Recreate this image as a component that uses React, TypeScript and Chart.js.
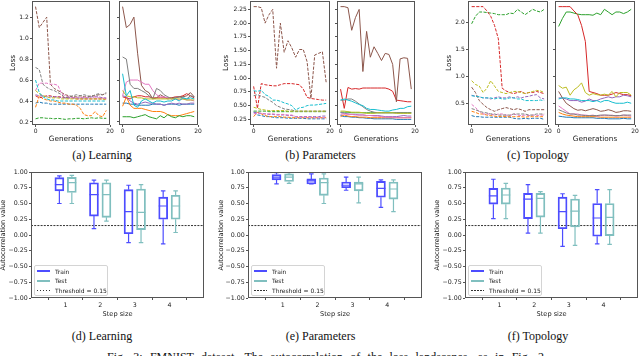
import React, { useEffect, useRef } from 'react';
import { Chart, registerables } from 'chart.js';

Chart.register(...registerables);

// ---------------- DATA ----------------
const generations = [0, 1, 2, 3, 4, 5, 6, 7, 8, 9, 10, 11, 12, 13, 14, 15, 16, 17, 18, 19];
const generationTicks = [0, 20];
const seriesColors = ['#1f77b4', '#ff7f0e', '#2ca02c', '#d62728', '#9467bd', '#8c564b', '#e377c2', '#7f7f7f', '#bcbd22', '#17becf'];

// (a) Learning – left (dashed) and right (solid); rows: blue, orange, green, red, purple, brown, pink, gray, olive, cyan
const learningLeft = [
  [0.38, 0.39, 0.38, 0.38, 0.37, 0.37, 0.37, 0.37, 0.37, 0.37, 0.37, 0.37, 0.37, 0.37, 0.37, 0.37, 0.37, 0.37, 0.37, 0.37],
  [0.34, 0.45, 0.42, 0.41, 0.40, 0.40, 0.39, 0.38, 0.38, 0.37, 0.37, 0.36, 0.33, 0.27, 0.26, 0.26, 0.30, 0.26, 0.25, 0.31],
  [0.23, 0.24, 0.24, 0.235, 0.235, 0.23, 0.235, 0.23, 0.225, 0.23, 0.23, 0.235, 0.235, 0.23, 0.235, 0.24, 0.235, 0.24, 0.235, 0.235],
  [0.45, 0.43, 0.44, 0.45, 0.45, 0.44, 0.44, 0.44, 0.43, 0.43, 0.43, 0.42, 0.42, 0.42, 0.42, 0.42, 0.42, 0.42, 0.42, 0.42],
  [0.46, 0.45, 0.45, 0.44, 0.44, 0.44, 0.44, 0.43, 0.43, 0.43, 0.43, 0.43, 0.43, 0.43, 0.43, 0.44, 0.44, 0.44, 0.43, 0.43],
  [1.30, 1.10, 1.15, 1.20, 0.56, 0.52, 0.50, 0.48, 0.46, 0.45, 0.44, 0.44, 0.45, 0.44, 0.44, 0.45, 0.45, 0.46, 0.46, 0.47],
  [0.50, 0.57, 0.57, 0.57, 0.56, 0.56, 0.55, 0.47, 0.45, 0.44, 0.43, 0.43, 0.43, 0.44, 0.43, 0.43, 0.44, 0.43, 0.43, 0.42],
  [0.72, 0.70, 0.56, 0.53, 0.51, 0.50, 0.48, 0.46, 0.43, 0.44, 0.45, 0.46, 0.45, 0.46, 0.45, 0.44, 0.46, 0.47, 0.46, 0.48],
  [0.50, 0.47, 0.45, 0.44, 0.43, 0.43, 0.43, 0.42, 0.42, 0.42, 0.42, 0.42, 0.42, 0.42, 0.42, 0.42, 0.42, 0.42, 0.42, 0.41],
  [0.60, 0.48, 0.44, 0.42, 0.41, 0.41, 0.40, 0.40, 0.40, 0.40, 0.40, 0.40, 0.40, 0.40, 0.40, 0.40, 0.40, 0.40, 0.40, 0.40],
];
const learningRight = [
  [0.38, 0.38, 0.37, 0.37, 0.36, 0.36, 0.36, 0.36, 0.37, 0.37, 0.37, 0.36, 0.37, 0.37, 0.37, 0.36, 0.37, 0.37, 0.37, 0.37],
  [0.35, 0.44, 0.36, 0.33, 0.33, 0.33, 0.32, 0.31, 0.30, 0.30, 0.30, 0.29, 0.27, 0.26, 0.26, 0.26, 0.27, 0.28, 0.29, 0.30],
  [0.25, 0.25, 0.25, 0.24, 0.25, 0.26, 0.27, 0.25, 0.24, 0.23, 0.26, 0.24, 0.27, 0.25, 0.24, 0.26, 0.25, 0.26, 0.26, 0.25],
  [0.44, 0.43, 0.42, 0.44, 0.45, 0.45, 0.44, 0.44, 0.43, 0.43, 0.43, 0.43, 0.43, 0.43, 0.44, 0.44, 0.45, 0.47, 0.45, 0.43],
  [0.45, 0.44, 0.40, 0.38, 0.37, 0.38, 0.39, 0.38, 0.38, 0.37, 0.37, 0.36, 0.37, 0.38, 0.37, 0.38, 0.37, 0.37, 0.38, 0.38],
  [1.30, 1.10, 1.13, 1.20, 0.85, 0.55, 0.50, 0.48, 0.42, 0.43, 0.46, 0.44, 0.42, 0.43, 0.43, 0.44, 0.44, 0.45, 0.48, 0.44],
  [0.45, 0.58, 0.60, 0.60, 0.60, 0.58, 0.56, 0.56, 0.50, 0.46, 0.44, 0.44, 0.43, 0.42, 0.42, 0.41, 0.42, 0.41, 0.41, 0.40],
  [0.82, 0.80, 0.56, 0.52, 0.52, 0.50, 0.48, 0.45, 0.42, 0.52, 0.50, 0.46, 0.44, 0.42, 0.43, 0.44, 0.43, 0.42, 0.45, 0.44],
  [0.50, 0.45, 0.44, 0.44, 0.43, 0.43, 0.42, 0.42, 0.42, 0.42, 0.42, 0.42, 0.42, 0.42, 0.42, 0.42, 0.42, 0.41, 0.41, 0.41],
  [0.66, 0.45, 0.50, 0.36, 0.34, 0.40, 0.42, 0.40, 0.38, 0.40, 0.40, 0.39, 0.40, 0.40, 0.42, 0.40, 0.43, 0.42, 0.43, 0.42],
];

// (b) Parameters
const paramsLeft = [
  [0.38, 0.33, 0.32, 0.30, 0.30, 0.29, 0.28, 0.28, 0.28, 0.27, 0.27, 0.27, 0.27, 0.27, 0.26, 0.26, 0.26, 0.26, 0.26, 0.26],
  [0.30, 0.38, 0.35, 0.32, 0.30, 0.30, 0.30, 0.30, 0.29, 0.29, 0.28, 0.28, 0.28, 0.28, 0.28, 0.28, 0.28, 0.28, 0.28, 0.28],
  [0.40, 0.40, 0.40, 0.40, 0.39, 0.39, 0.39, 0.39, 0.39, 0.39, 0.39, 0.39, 0.39, 0.39, 0.39, 0.39, 0.39, 0.39, 0.39, 0.39],
  [0.85, 0.45, 0.90, 0.88, 0.87, 0.86, 0.86, 0.88, 0.90, 0.90, 0.90, 0.89, 0.88, 0.80, 0.65, 0.63, 0.62, 0.61, 0.60, 0.60],
  [0.38, 0.37, 0.36, 0.35, 0.34, 0.34, 0.33, 0.33, 0.33, 0.32, 0.32, 0.30, 0.30, 0.30, 0.30, 0.30, 0.30, 0.30, 0.31, 0.31],
  [2.30, 2.30, 2.28, 2.00, 2.15, 2.25, 1.18, 2.00, 1.47, 1.68, 1.55, 1.38, 1.52, 1.52, 1.30, 0.63, 1.42, 1.45, 1.48, 0.92],
  [0.35, 0.36, 0.36, 0.35, 0.35, 0.35, 0.34, 0.34, 0.34, 0.33, 0.33, 0.30, 0.29, 0.29, 0.29, 0.29, 0.28, 0.28, 0.28, 0.28],
  [0.68, 0.70, 0.67, 0.65, 0.60, 0.56, 0.50, 0.47, 0.44, 0.43, 0.42, 0.40, 0.40, 0.40, 0.40, 0.40, 0.40, 0.40, 0.40, 0.40],
  [0.47, 0.45, 0.43, 0.42, 0.41, 0.41, 0.41, 0.41, 0.41, 0.40, 0.40, 0.40, 0.40, 0.40, 0.40, 0.40, 0.40, 0.40, 0.40, 0.40],
  [0.77, 0.76, 0.78, 0.70, 0.67, 0.60, 0.60, 0.58, 0.55, 0.53, 0.50, 0.42, 0.46, 0.47, 0.50, 0.51, 0.51, 0.52, 0.53, 0.54],
];
const paramsRight = [
  [0.32, 0.30, 0.30, 0.29, 0.29, 0.28, 0.28, 0.27, 0.27, 0.26, 0.26, 0.26, 0.26, 0.26, 0.26, 0.25, 0.25, 0.25, 0.25, 0.25],
  [0.30, 0.33, 0.31, 0.30, 0.30, 0.29, 0.29, 0.29, 0.28, 0.28, 0.28, 0.28, 0.28, 0.28, 0.28, 0.28, 0.28, 0.28, 0.28, 0.28],
  [0.38, 0.38, 0.38, 0.37, 0.37, 0.37, 0.37, 0.37, 0.37, 0.37, 0.37, 0.37, 0.37, 0.37, 0.37, 0.37, 0.37, 0.37, 0.37, 0.37],
  [0.80, 0.45, 0.83, 0.80, 0.81, 0.80, 0.82, 0.82, 0.82, 0.82, 0.82, 0.82, 0.82, 0.80, 0.76, 0.60, 0.59, 0.58, 0.57, 0.57],
  [0.37, 0.36, 0.35, 0.34, 0.34, 0.33, 0.33, 0.32, 0.32, 0.32, 0.32, 0.31, 0.30, 0.30, 0.30, 0.30, 0.31, 0.32, 0.31, 0.31],
  [2.30, 2.30, 2.28, 1.87, 2.10, 2.25, 1.12, 1.85, 1.38, 1.57, 1.45, 1.32, 1.45, 1.43, 1.25, 0.57, 1.35, 1.37, 1.36, 0.80],
  [0.34, 0.35, 0.34, 0.34, 0.33, 0.33, 0.33, 0.32, 0.32, 0.31, 0.31, 0.30, 0.29, 0.29, 0.29, 0.28, 0.28, 0.28, 0.28, 0.28],
  [0.60, 0.60, 0.62, 0.62, 0.58, 0.53, 0.48, 0.43, 0.40, 0.38, 0.37, 0.37, 0.37, 0.37, 0.37, 0.37, 0.37, 0.37, 0.37, 0.37],
  [0.40, 0.40, 0.39, 0.38, 0.38, 0.38, 0.37, 0.36, 0.36, 0.36, 0.37, 0.37, 0.37, 0.37, 0.37, 0.36, 0.36, 0.36, 0.36, 0.36],
  [0.60, 0.62, 0.60, 0.58, 0.55, 0.52, 0.50, 0.45, 0.43, 0.43, 0.42, 0.41, 0.40, 0.40, 0.42, 0.43, 0.45, 0.45, 0.48, 0.49],
];

// (c) Topology
const topologyLeft = [
  [0.27, 0.25, 0.25, 0.24, 0.24, 0.24, 0.24, 0.24, 0.24, 0.24, 0.24, 0.22, 0.21, 0.21, 0.22, 0.21, 0.22, 0.22, 0.22, 0.20],
  [0.35, 0.33, 0.30, 0.30, 0.28, 0.27, 0.26, 0.25, 0.26, 0.25, 0.25, 0.25, 0.25, 0.25, 0.24, 0.25, 0.25, 0.25, 0.25, 0.25],
  [1.98, 2.12, 2.20, 2.20, 2.19, 2.18, 2.17, 2.15, 2.15, 2.15, 2.18, 2.17, 2.25, 2.20, 2.15, 2.20, 2.25, 2.22, 2.20, 2.25],
  [2.30, 2.30, 2.30, 2.30, 2.22, 2.12, 1.95, 1.70, 0.78, 0.73, 0.70, 0.68, 0.70, 0.72, 0.68, 0.70, 0.70, 0.72, 0.70, 0.68],
  [0.65, 0.63, 0.62, 0.60, 0.60, 0.58, 0.60, 0.62, 0.60, 0.60, 0.62, 0.60, 0.62, 0.60, 0.62, 0.63, 0.65, 0.66, 0.60, 0.58],
  [0.80, 0.70, 0.55, 0.48, 0.42, 0.38, 0.35, 0.38, 0.40, 0.42, 0.40, 0.38, 0.40, 0.38, 0.35, 0.38, 0.38, 0.38, 0.38, 0.38],
  [0.48, 0.42, 0.35, 0.30, 0.30, 0.30, 0.28, 0.30, 0.30, 0.28, 0.27, 0.30, 0.28, 0.27, 0.28, 0.27, 0.28, 0.27, 0.28, 0.28],
  [0.40, 0.38, 0.35, 0.33, 0.32, 0.30, 0.30, 0.28, 0.28, 0.28, 0.28, 0.30, 0.30, 0.30, 0.30, 0.28, 0.28, 0.30, 0.30, 0.30],
  [0.92, 0.85, 0.82, 0.70, 0.78, 0.92, 0.82, 0.72, 0.70, 0.68, 0.70, 0.72, 0.72, 0.70, 0.68, 0.70, 0.72, 0.74, 0.73, 0.70],
  [0.64, 0.63, 0.62, 0.60, 0.60, 0.60, 0.58, 0.60, 0.58, 0.58, 0.60, 0.60, 0.58, 0.58, 0.55, 0.55, 0.55, 0.55, 0.56, 0.55],
];
const topologyRight = [
  [0.26, 0.25, 0.24, 0.24, 0.23, 0.23, 0.23, 0.23, 0.23, 0.23, 0.22, 0.22, 0.22, 0.21, 0.21, 0.21, 0.21, 0.22, 0.21, 0.21],
  [0.33, 0.30, 0.28, 0.27, 0.26, 0.25, 0.25, 0.25, 0.25, 0.25, 0.25, 0.24, 0.24, 0.24, 0.24, 0.24, 0.24, 0.24, 0.24, 0.24],
  [1.93, 2.08, 2.20, 2.20, 2.18, 2.16, 2.15, 2.15, 2.15, 2.14, 2.18, 2.15, 2.25, 2.20, 2.15, 2.20, 2.20, 2.17, 2.20, 2.25],
  [2.30, 2.30, 2.30, 2.30, 2.22, 2.15, 1.95, 1.65, 0.72, 0.70, 0.68, 0.65, 0.65, 0.65, 0.67, 0.70, 0.68, 0.66, 0.66, 0.64],
  [0.60, 0.60, 0.58, 0.55, 0.55, 0.55, 0.52, 0.54, 0.58, 0.55, 0.55, 0.58, 0.60, 0.62, 0.60, 0.62, 0.62, 0.65, 0.64, 0.62],
  [0.72, 0.60, 0.50, 0.45, 0.40, 0.37, 0.38, 0.36, 0.38, 0.40, 0.38, 0.35, 0.36, 0.38, 0.36, 0.33, 0.34, 0.36, 0.36, 0.35],
  [0.45, 0.40, 0.35, 0.30, 0.30, 0.30, 0.28, 0.28, 0.27, 0.28, 0.26, 0.27, 0.28, 0.27, 0.28, 0.26, 0.27, 0.28, 0.27, 0.26],
  [0.38, 0.35, 0.32, 0.30, 0.30, 0.28, 0.28, 0.27, 0.27, 0.27, 0.27, 0.28, 0.28, 0.28, 0.27, 0.27, 0.27, 0.28, 0.28, 0.28],
  [0.83, 0.78, 0.80, 0.65, 0.75, 0.80, 0.88, 0.70, 0.65, 0.68, 0.66, 0.65, 0.67, 0.65, 0.72, 0.62, 0.70, 0.70, 0.70, 0.65],
  [0.58, 0.60, 0.60, 0.58, 0.58, 0.57, 0.55, 0.55, 0.55, 0.53, 0.55, 0.52, 0.55, 0.55, 0.52, 0.50, 0.50, 0.50, 0.52, 0.50],
];

const learningLossTicks = [0.2, 0.4, 0.6, 0.8, 1.0, 1.2];
const paramsLossTicks = [0.25, 0.5, 0.75, 1.0, 1.25, 1.5, 1.75, 2.0, 2.25];
const topologyLossTicks = [0.5, 1.0, 1.5, 2.0];

// Box plots: autocorrelation per step size
const stepSizes = [1, 2, 3, 4];
const autocorrTicks = [-1, -0.75, -0.5, -0.25, 0, 0.25, 0.5, 0.75, 1];
const threshold = 0.15;

const learningTrainBox = { lo: [0.50, 0.10, -0.12, -0.14], q1: [0.70, 0.30, 0.02, 0.25], med: [0.80, 0.64, 0.37, 0.46], q3: [0.91, 0.83, 0.72, 0.60], hi: [0.94, 0.87, 0.79, 0.70] };
const learningTestBox = { lo: [0.50, 0.22, -0.12, 0.04], q1: [0.675, 0.28, 0.085, 0.25], med: [0.83, 0.64, 0.36, 0.46], q3: [0.915, 0.83, 0.73, 0.63], hi: [0.945, 0.87, 0.80, 0.70] };
const paramsTrainBox = { lo: [0.81, 0.81, 0.71, 0.44], q1: [0.875, 0.81, 0.75, 0.60], med: [0.92, 0.86, 0.79, 0.74], q3: [0.96, 0.89, 0.84, 0.85], hi: [0.99, 0.97, 0.92, 0.875] };
const paramsTestBox = { lo: [0.82, 0.50, 0.51, 0.37], q1: [0.85, 0.63, 0.70, 0.57], med: [0.92, 0.83, 0.81, 0.73], q3: [0.97, 0.905, 0.84, 0.84], hi: [0.99, 0.97, 0.92, 0.875] };
const topologyTrainBox = { lo: [0.26, 0.03, -0.18, -0.14], q1: [0.49, 0.26, 0.10, -0.02], med: [0.62, 0.57, 0.37, 0.27], q3: [0.74, 0.66, 0.60, 0.50], hi: [0.885, 0.80, 0.655, 0.72] };
const topologyTestBox = { lo: [0.26, 0.03, -0.165, -0.15], q1: [0.49, 0.285, 0.13, -0.01], med: [0.635, 0.58, 0.38, 0.28], q3: [0.745, 0.66, 0.57, 0.50], hi: [0.82, 0.69, 0.63, 0.72] };

// ---------------- STYLE ----------------
const FONT = '"DejaVu Sans", sans-serif';
const SERIF = '"Liberation Serif", "Times New Roman", serif';
const TEXT = '#222';
const FRAME = '#555';
const TRAIN_COLOR = 'rgb(77,77,255)';
const TEST_COLOR = 'rgb(128,191,191)';
const BOX_OFFSET = 0.18;
const BOX_PX = 9;

type Frame = { l: number; t: number; r: number; b: number };

function geometry(frame: Frame, yTitleX: number | null, xTitleY: number, titleLH: number) {
  const padTop = 5;
  const padRight = 6;
  const left = yTitleX != null ? Math.floor(yTitleX - titleLH / 2) : frame.l - 4;
  const yTitlePad = yTitleX != null ? yTitleX - titleLH / 2 - left : 0;
  const top = frame.t - padTop;
  const bottom = Math.ceil(xTitleY + titleLH / 2);
  const xTitlePad = bottom - (xTitleY + titleLH / 2);
  return {
    left, top, width: frame.r + padRight - left, height: bottom - top,
    yAxisW: frame.l - left, xAxisH: bottom - frame.b, yTitlePad, xTitlePad, padTop, padRight,
  };
}
type Geom = ReturnType<typeof geometry>;

const framePlugin = {
  id: 'frame',
  afterDraw(chart: any) {
    const { ctx, chartArea: a } = chart;
    ctx.save();
    ctx.strokeStyle = FRAME;
    ctx.lineWidth = 1;
    ctx.strokeRect(a.left + 0.5, a.top + 0.5, a.right - a.left - 1, a.bottom - a.top - 1);
    ctx.restore();
  },
};

const whiskerPlugin = {
  id: 'whiskers',
  afterDatasetsDraw(chart: any) {
    const xs = chart.scales.x;
    const ys = chart.scales.y;
    const ctx = chart.ctx;
    chart.data.datasets.forEach((ds: any) => {
      if (!ds.stats) return;
      const { pos, lo, q1, med, q3, hi } = ds.stats;
      ctx.save();
      ctx.strokeStyle = ds.borderColor;
      ctx.lineWidth = 1.2;
      pos.forEach((p: number, i: number) => {
        const cx = xs.getPixelForValue(p);
        const half = BOX_PX / 2;
        const cap = BOX_PX / 4;
        const yLo = ys.getPixelForValue(lo[i]);
        const yQ1 = ys.getPixelForValue(q1[i]);
        const yMed = ys.getPixelForValue(med[i]);
        const yQ3 = ys.getPixelForValue(q3[i]);
        const yHi = ys.getPixelForValue(hi[i]);
        ctx.beginPath();
        ctx.moveTo(cx, yQ1); ctx.lineTo(cx, yLo);
        ctx.moveTo(cx, yQ3); ctx.lineTo(cx, yHi);
        ctx.moveTo(cx - cap, yLo); ctx.lineTo(cx + cap, yLo);
        ctx.moveTo(cx - cap, yHi); ctx.lineTo(cx + cap, yHi);
        ctx.moveTo(cx - half, yMed); ctx.lineTo(cx + half, yMed);
        ctx.stroke();
      });
      ctx.restore();
    });
  },
};

function axisCommon(fontSize: number) {
  return {
    grid: { display: true, drawOnChartArea: false, drawTicks: true, tickLength: 2, tickColor: FRAME, tickWidth: 1 },
    border: { display: false },
    ticks: { font: { family: FONT, size: fontSize }, color: TEXT, padding: 1.2, maxRotation: 0, autoSkip: false },
  };
}

function dataRange(groups: number[][][]) {
  const vals = groups.flat(2);
  const mn = Math.min(...vals);
  const mx = Math.max(...vals);
  const pad = (mx - mn) * 0.05;
  return [mn - pad, mx + pad];
}

function lossConfig(series: number[][], dashed: boolean, range: number[], yTicks: number[], decimals: number, g: Geom, showY: boolean) {
  const common = axisCommon(6);
  return {
    type: 'line',
    data: {
      datasets: series.map((s, i) => ({
        data: s.map((v, j) => ({ x: generations[j], y: v })),
        borderColor: seriesColors[i],
        borderWidth: 1,
        borderDash: dashed ? [3.2, 1.4] : [],
        pointRadius: 0,
        fill: false,
        tension: 0,
        order: series.length - 1 - i,
      })),
    },
    options: {
      animation: false,
      responsive: false,
      events: [],
      layout: { padding: { top: g.padTop, right: g.padRight, left: 0, bottom: 0 } },
      plugins: { legend: { display: false }, tooltip: { enabled: false } },
      scales: {
        x: {
          type: 'linear', min: -0.95, max: 20,
          ...common,
          ticks: { ...common.ticks, callback: (v: any) => String(v) },
          afterBuildTicks: (s: any) => { s.ticks = generationTicks.map((v) => ({ value: v })); },
          afterFit: (s: any) => { s.height = g.xAxisH; },
          title: { display: true, text: 'Generations', color: TEXT, font: { family: FONT, size: 7.3, lineHeight: 1.2 }, padding: { top: 0, bottom: g.xTitlePad } },
        },
        y: {
          type: 'linear', min: range[0], max: range[1],
          ...common,
          ticks: { ...common.ticks, callback: (v: any) => (showY ? Number(v).toFixed(decimals) : '') },
          afterBuildTicks: (s: any) => { s.ticks = yTicks.map((v) => ({ value: v })); },
          afterFit: (s: any) => { s.width = g.yAxisW; },
          title: { display: showY, text: 'Loss', color: TEXT, font: { family: FONT, size: 7.3, lineHeight: 1.2 }, padding: { top: g.yTitlePad, bottom: 0 } },
        },
      },
    },
    plugins: [framePlugin],
  };
}

function boxConfig(train: any, test: any, g: Geom) {
  const common = axisCommon(6.3);
  const boxDataset = (stats: any, offset: number, label: string, color: string) => {
    const pos = stepSizes.map((s) => s + offset);
    return {
      type: 'bar',
      label,
      data: pos.map((p, i) => ({ x: p, y: [stats.q1[i], stats.q3[i]] })),
      stats: { ...stats, pos },
      borderColor: color,
      backgroundColor: 'rgba(0,0,0,0)',
      borderWidth: 1.2,
      borderSkipped: false,
      grouped: false,
      barThickness: BOX_PX,
      maxBarThickness: BOX_PX,
    };
  };
  return {
    type: 'bar',
    data: {
      datasets: [
        boxDataset(train, -BOX_OFFSET, 'Train', TRAIN_COLOR),
        boxDataset(test, BOX_OFFSET, 'Test', TEST_COLOR),
        {
          type: 'line',
          label: `Threshold = ${threshold}`,
          data: [{ x: 0, y: threshold }, { x: 5, y: threshold }],
          borderColor: '#333',
          borderWidth: 1,
          borderDash: [2, 1.2],
          pointRadius: 0,
          fill: false,
        },
      ],
    },
    options: {
      animation: false,
      responsive: false,
      events: [],
      layout: { padding: { top: g.padTop, right: g.padRight, left: 0, bottom: 0 } },
      plugins: { legend: { display: false }, tooltip: { enabled: false } },
      scales: {
        x: {
          type: 'linear', min: 0, max: 5, offset: false,
          ...common,
          ticks: { ...common.ticks, padding: 1.5, callback: (v: any) => String(v) },
          afterBuildTicks: (s: any) => { s.ticks = stepSizes.map((v) => ({ value: v })); },
          afterFit: (s: any) => { s.height = g.xAxisH; },
          title: { display: true, text: 'Step size', color: TEXT, font: { family: FONT, size: 6.6, lineHeight: 1.2 }, padding: { top: 0, bottom: g.xTitlePad } },
        },
        y: {
          type: 'linear', min: -1, max: 1,
          ...common,
          ticks: { ...common.ticks, callback: (v: any) => Number(v).toFixed(2).replace('-', '\u2212') },
          afterBuildTicks: (s: any) => { s.ticks = autocorrTicks.map((v) => ({ value: v })); },
          afterFit: (s: any) => { s.width = g.yAxisW; },
          title: { display: true, text: 'Autocorrelation value', color: TEXT, font: { family: FONT, size: 6.6, lineHeight: 1.2 }, padding: { top: g.yTitlePad, bottom: 0 } },
        },
      },
    },
    plugins: [whiskerPlugin, framePlugin],
  };
}

function ChartBox({ g, make }: { g: Geom; make: () => any }) {
  const ref = useRef<HTMLCanvasElement>(null);
  useEffect(() => {
    const chart = new Chart(ref.current as HTMLCanvasElement, make());
    return () => chart.destroy();
  }, []);
  return (
    <canvas
      ref={ref}
      width={g.width}
      height={g.height}
      style={{ position: 'absolute', left: g.left, top: g.top, width: g.width, height: g.height }}
    />
  );
}

function LineSample({ color, dotted }: { color: string; dotted?: boolean }) {
  const style: React.CSSProperties = dotted
    ? { width: 13, height: 1, marginLeft: 2, marginRight: 5, backgroundImage: `repeating-linear-gradient(to right, ${color} 0 1.5px, transparent 1.5px 3px)` }
    : { width: 13, height: 1.6, marginLeft: 2, marginRight: 5, background: color };
  return <div style={{ flex: 'none', ...style }} />;
}

function Legend({ frame }: { frame: Frame }) {
  const rows = [
    { label: 'Train', color: TRAIN_COLOR, dotted: false },
    { label: 'Test', color: TEST_COLOR, dotted: false },
    { label: `Threshold = ${threshold}`, color: '#333', dotted: true },
  ];
  return (
    <div
      style={{
        position: 'absolute', left: frame.l + 3, top: frame.b - 33, width: 74, height: 31,
        boxSizing: 'border-box', border: '1px solid #d4d4d4', borderRadius: 2,
        background: 'rgba(255,255,255,0.85)', fontFamily: FONT, fontSize: 6, color: TEXT, paddingTop: 0.5,
      }}
    >
      {rows.map((r) => (
        <div key={r.label} style={{ display: 'flex', alignItems: 'center', height: 9.5, whiteSpace: 'nowrap' }}>
          <LineSample color={r.color} dotted={r.dotted} />
          <span>{r.label}</span>
        </div>
      ))}
    </div>
  );
}

function Caption({ cx, top, text }: { cx: number; top: number; text: string }) {
  return (
    <div style={{ position: 'absolute', left: cx - 70, top, width: 140, textAlign: 'center', fontFamily: SERIF, fontSize: 12, lineHeight: '12px', color: '#111', whiteSpace: 'nowrap' }}>
      {text}
    </div>
  );
}

const TOP_T = 1, TOP_B = 125, TOP_XTITLE = 139.5, TOP_LH = 7.3 * 1.2;
const BOT_T = 172, BOT_B = 298, BOT_XTITLE = 314, BOT_LH = 6.6 * 1.2;

const learningRange = dataRange([learningLeft, learningRight]);
const paramsRange = dataRange([paramsLeft, paramsRight]);
const topologyRange = dataRange([topologyLeft, topologyRight]);

const topPanels = [
  { frame: { l: 32, t: TOP_T, r: 110, b: TOP_B }, titleX: 13.3, series: learningLeft, dashed: true, range: learningRange, ticks: learningLossTicks, dec: 1 },
  { frame: { l: 119, t: TOP_T, r: 198, b: TOP_B }, titleX: null, series: learningRight, dashed: false, range: learningRange, ticks: learningLossTicks, dec: 1 },
  { frame: { l: 250, t: TOP_T, r: 330, b: TOP_B }, titleX: 226.3, series: paramsLeft, dashed: true, range: paramsRange, ticks: paramsLossTicks, dec: 2 },
  { frame: { l: 337, t: TOP_T, r: 415, b: TOP_B }, titleX: null, series: paramsRight, dashed: false, range: paramsRange, ticks: paramsLossTicks, dec: 2 },
  { frame: { l: 468, t: TOP_T, r: 548, b: TOP_B }, titleX: 449.3, series: topologyLeft, dashed: true, range: topologyRange, ticks: topologyLossTicks, dec: 1 },
  { frame: { l: 555, t: TOP_T, r: 635, b: TOP_B }, titleX: null, series: topologyRight, dashed: false, range: topologyRange, ticks: topologyLossTicks, dec: 1 },
];

const bottomPanels = [
  { frame: { l: 31, t: BOT_T, r: 204, b: BOT_B }, titleX: 3.3, train: learningTrainBox, test: learningTestBox },
  { frame: { l: 248, t: BOT_T, r: 422, b: BOT_B }, titleX: 221.7, train: paramsTrainBox, test: paramsTestBox },
  { frame: { l: 465, t: BOT_T, r: 638, b: BOT_B }, titleX: 437.3, train: topologyTrainBox, test: topologyTestBox },
];

const captionCenters = [102, 320.5, 538];
const topCaptions = ['(a) Learning', '(b) Parameters', '(c) Topology'];
const bottomCaptions = ['(d) Learning', '(e) Parameters', '(f) Topology'];

export default function App() {
  return (
    <div style={{ position: 'fixed', left: 0, top: 0, width: 640, height: 356, overflow: 'hidden', background: '#fff' }}>
      {topPanels.map((p, i) => {
        const g = geometry(p.frame, p.titleX, TOP_XTITLE, TOP_LH);
        return <ChartBox key={'t' + i} g={g} make={() => lossConfig(p.series, p.dashed, p.range, p.ticks, p.dec, g, p.titleX != null)} />;
      })}
      {bottomPanels.map((p, i) => {
        const g = geometry(p.frame, p.titleX, BOT_XTITLE, BOT_LH);
        return <ChartBox key={'b' + i} g={g} make={() => boxConfig(p.train, p.test, g)} />;
      })}
      {bottomPanels.map((p, i) => <Legend key={'l' + i} frame={p.frame} />)}
      {topCaptions.map((t, i) => <Caption key={t} cx={captionCenters[i]} top={148.5} text={t} />)}
      {bottomCaptions.map((t, i) => <Caption key={t} cx={captionCenters[i]} top={329.6} text={t} />)}
      <div
        style={{
          position: 'absolute', left: 107, top: 350.5, width: 440, fontFamily: SERIF, fontSize: 12, lineHeight: '12px',
          color: '#111', textAlign: 'justify', textAlignLast: 'justify' as any,
        }}
      >
        Fig. 3: FMNIST dataset. The autocorrelation of the loss landscapes, as in Fig. 2.
      </div>
    </div>
  );
}
